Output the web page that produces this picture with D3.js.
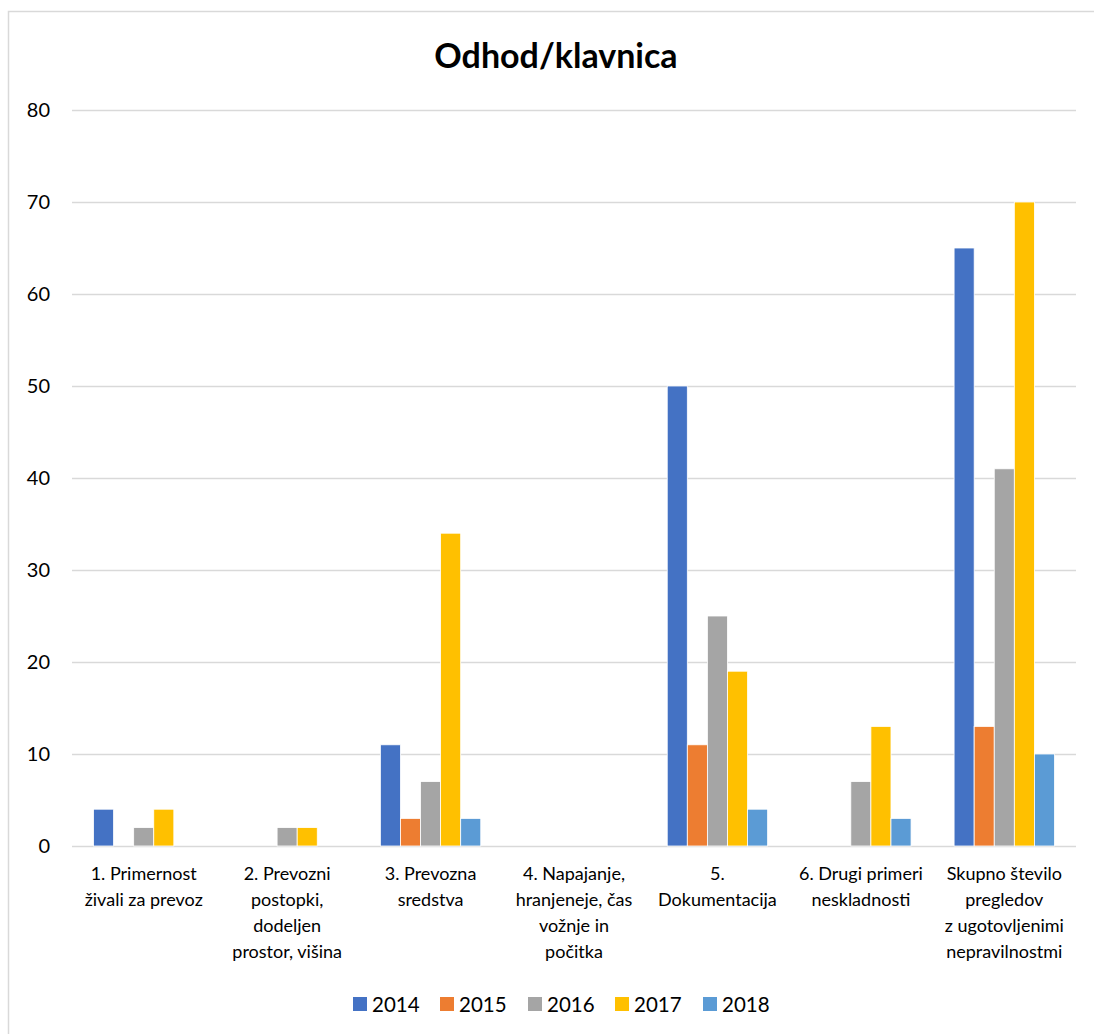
<!DOCTYPE html>
<html>
<head>
<meta charset="utf-8">
<script src="https://cdn.jsdelivr.net/npm/d3@7"></script>
<style>
  html, body { margin: 0; padding: 0; background: #fff; }
  svg { display: block; font-family: Lato, "Open Sans", sans-serif; }
</style>
</head>
<body>
<svg id="chart" width="1094" height="1034"></svg>
<script>
const title = "Odhod/klavnica";
const categories = [
  "1. Primernost živali za prevoz",
  "2. Prevozni postopki, dodeljen prostor, višina",
  "3. Prevozna sredstva",
  "4. Napajanje, hranjeneje, čas vožnje in počitka",
  "5. Dokumentacija",
  "6. Drugi primeri neskladnosti",
  "Skupno število pregledov z ugotovljenimi nepravilnostmi"
];
const categoryLines = [
  ["1. Primernost", "živali za prevoz"],
  ["2. Prevozni", "postopki,", "dodeljen", "prostor, višina"],
  ["3. Prevozna", "sredstva"],
  ["4. Napajanje,", "hranjeneje, čas", "vožnje in", "počitka"],
  ["5.", "Dokumentacija"],
  ["6. Drugi primeri", "neskladnosti"],
  ["Skupno število", "pregledov", "z ugotovljenimi", "nepravilnostmi"]
];
const years = ["2014", "2015", "2016", "2017", "2018"];
const values2014 = [4, 0, 11, 0, 50, 0, 65];
const values2015 = [0, 0, 3, 0, 11, 0, 13];
const values2016 = [2, 2, 7, 0, 25, 7, 41];
const values2017 = [4, 2, 34, 0, 19, 13, 70];
const values2018 = [0, 0, 3, 0, 4, 3, 10];
const yTicks = [0, 10, 20, 30, 40, 50, 60, 70, 80];
const colors = ["#4472C4", "#ED7D31", "#A5A5A5", "#FFC000", "#5B9BD5"];

const series = [values2014, values2015, values2016, values2017, values2018];

(function () {
const svg = d3.select("#chart");

// outer chart frame
svg.append("rect")
  .attr("x", 8.5).attr("y", 11.5)
  .attr("width", 1100).attr("height", 1040)
  .attr("fill", "none").attr("stroke", "#d9d9d9").attr("stroke-width", 1.5);

const pLeft = 72, pRight = 1076, pTop = 110, pBottom = 846;

const x0 = d3.scaleBand().domain(categories).range([pLeft, pRight])
  .paddingInner(0.3).paddingOuter(0.15);
const x1 = d3.scaleBand().domain(years).range([0, x0.bandwidth()]);
const y = d3.scaleLinear().domain([0, 80]).range([pBottom, pTop]);
const color = d3.scaleOrdinal().domain(years).range(colors);

// gridlines
svg.append("g")
  .selectAll("line").data(yTicks).join("line")
  .attr("x1", pLeft).attr("x2", pRight)
  .attr("y1", d => Math.round(y(d)) + 0.5).attr("y2", d => Math.round(y(d)) + 0.5)
  .attr("stroke", "#d9d9d9").attr("stroke-width", 1.5);

// y axis labels
const yAxis = d3.axisLeft(y).tickValues(yTicks).tickSize(0).tickPadding(0);
const yg = svg.append("g").attr("transform", `translate(50,0)`).call(yAxis);
yg.select(".domain").remove();
yg.selectAll("text").attr("font-size", 20).attr("fill", "#000")
  .attr("font-family", "Lato, 'Open Sans', sans-serif");

// bars
const groups = svg.append("g").selectAll("g").data(categories).join("g")
  .attr("transform", d => `translate(${x0(d)},0)`);
groups.selectAll("rect")
  .data((d, i) => years.map((yr, j) => ({ yr, v: series[j][i] })).filter(e => e.v > 0))
  .join("rect")
  .attr("x", d => x1(d.yr))
  .attr("width", x1.bandwidth())
  .attr("y", d => y(d.v))
  .attr("height", d => y(0) - y(d.v))
  .attr("fill", d => color(d.yr))
  .attr("stroke", "#fff").attr("stroke-width", 0.8);

// x axis labels
const xl = svg.append("g");
categories.forEach((c, i) => {
  const cx = x0(c) + x0.bandwidth() / 2;
  const t = xl.append("text")
    .attr("text-anchor", "middle")
    .attr("font-size", 18)
    .attr("fill", "#000");
  categoryLines[i].forEach((line, k) => {
    t.append("tspan").attr("x", cx).attr("y", 880 + k * 26).text(line);
  });
});

// title
svg.append("text")
  .attr("x", 556).attr("y", 68)
  .attr("text-anchor", "middle")
  .attr("font-size", 34).attr("font-weight", "bold")
  .attr("fill", "#000")
  .text(title);

// legend
const legendX = [353, 440, 528, 615, 703];
const lg = svg.append("g").selectAll("g").data(years).join("g")
  .attr("transform", (d, i) => `translate(${legendX[i]},997)`);
lg.append("rect").attr("width", 14).attr("height", 14).attr("fill", d => color(d));
lg.append("text").attr("x", 19).attr("y", 14.5).attr("font-size", 20.5)
  .attr("fill", "#000").text(d => d);
})();
</script>
</body>
</html>
